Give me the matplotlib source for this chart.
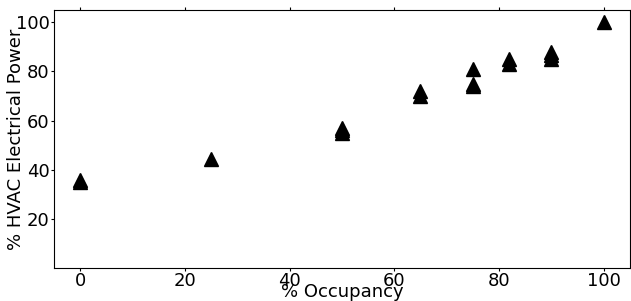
import numpy as np
import matplotlib.pyplot as plt

# Data
# -----------------------------------------------------------
occupancy = [0, 0, 25, 50, 50, 50, 65, 65, 75, 75, 75, 82, 82, 90, 90, 90, 100]
hvac_power = [35, 36, 44.5, 55, 56, 57, 70, 72, 74, 75, 81, 83, 85, 85, 86.5, 88, 100]

# Plot
# -----------------------------------------------------------
fig = plt.figure(figsize=(6.31, 3.01), dpi=100)
ax = fig.add_axes([0.0856, 0.1096, 0.9124, 0.8574])
ax.plot(occupancy, hvac_power, '^', color='black', markersize=10, linestyle='none')

ax.set_xlim(-5, 105)
ax.set_ylim(0, 105)
ax.set_xticks([0, 20, 40, 60, 80, 100])
ax.set_yticks([20, 40, 60, 80, 100])
ax.tick_params(direction='out', top=True, length=2, labelsize=13, pad=1)
ax.set_xlabel('% Occupancy', fontsize=13)
ax.set_ylabel('% HVAC Electrical Power', fontsize=13)
ax.xaxis.set_label_coords(0.5, -0.06)
ax.yaxis.set_label_coords(-0.05, 0.5)

fig.savefig('out.png', dpi=100)
